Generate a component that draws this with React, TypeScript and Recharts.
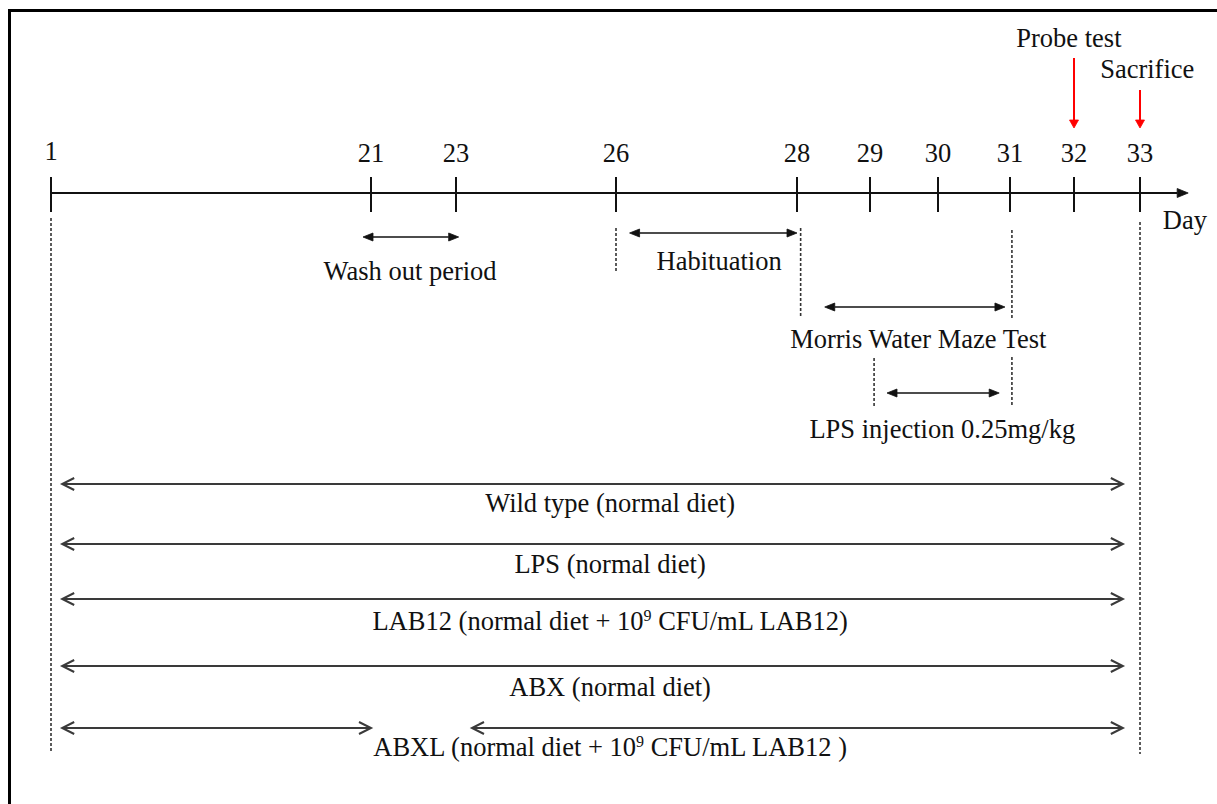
import { ComposedChart, ReferenceLine, Scatter, XAxis, YAxis } from "recharts";

// days printed above the timeline
const DAYS = [1, 21, 23, 26, 28, 29, 30, 31, 32, 33];
// where each printed day sits along the drawn axis (the schematic is not to scale)
const DAY_TRACK = [0, 320, 405, 565, 746, 819, 887, 959, 1023, 1089];

// experiment phases, in (fractional) days as drawn
const PHASE_NAMES = [
  "Wash out period",
  "Habituation",
  "Morris Water Maze Test",
  "LPS injection 0.25mg/kg",
];
const PHASE_START = [20.5, 26.15, 28.38, 29.25];
const PHASE_END = [23.05, 28.0, 30.93, 30.85];

// treatment groups ("^" marks a superscript digit)
const GROUP_NAMES = [
  "Wild type (normal diet)",
  "LPS (normal diet)",
  "LAB12 (normal diet + 10^9 CFU/mL LAB12)",
  "ABX (normal diet)",
  "ABXL (normal diet + 10^9 CFU/mL LAB12 )",
];
const GROUP_START = 1.7;
const GROUP_END = 32.74;
// ABXL is paused between these days
const ABXL_PAUSE = [21.0, 23.3];

const EVENT_NAMES = ["Probe test", "Sacrifice"];
const EVENT_DAYS = [32, 33];

// ---- layout (vertical rows are page rows, the schematic has no y quantity)
const W = 1217;
const H = 804;
const FONT = 26.5;
const SERIF = '"Liberation Serif", "Times New Roman", serif';
const INK = "#111";
const AXIS_Y = 193;
const AXIS_END_DAY = 33.73;
const TICK_TOP = 177;
const TICK_BOTTOM = 212;
const DAY_LABEL_Y = 162;
const PHASE_ROWS = [237, 233, 307, 393];
const PHASE_LABEL_ROWS = [280, 270, 348, 438];
const PHASE_LABEL_DAYS = [21.92, 27.14, 29.71, 30.06];
const GROUP_ROWS = [484, 544, 599, 666, 728];
const GROUP_LABEL_ROWS = [512, 573, 630, 696, 756];
const GROUP_LABEL_DAY = 25.89;
const EVENT_TOP = [58, 90];
const EVENT_BOTTOM = 128;
const EVENT_LABEL_ROWS = [47, 78];
const EVENT_LABEL_DAYS = [31.92, 33.11];
const GUIDES = [
  { day: 1, y1: 218, y2: 753 },
  { day: 33, y1: 222, y2: 754 },
  { day: 26, y1: 228, y2: 273 },
  { day: 28.05, y1: 228, y2: 318 },
  { day: 31.03, y1: 230, y2: 320 },
  { day: 31.03, y1: 357, y2: 405 },
  { day: 29.06, y1: 358, y2: 407 },
];

// piecewise position of a day on the drawn axis
function track(day: number) {
  let i = 0;
  while (i < DAYS.length - 2 && day > DAYS[i + 1]) i++;
  const t = (day - DAYS[i]) / (DAYS[i + 1] - DAYS[i]);
  return DAY_TRACK[i] + t * (DAY_TRACK[i + 1] - DAY_TRACK[i]);
}

function head(ax: number, ay: number, bx: number, by: number, len: number, half: number) {
  const L = Math.hypot(bx - ax, by - ay) || 1;
  const ux = (bx - ax) / L;
  const uy = (by - ay) / L;
  const baseX = bx - ux * len;
  const baseY = by - uy * len;
  return {
    base: [baseX, baseY],
    pts: [
      [baseX - uy * half, baseY + ux * half],
      [bx, by],
      [baseX + uy * half, baseY - ux * half],
    ],
  };
}

type ArrowOpts = { color: string; width: number; len: number; half: number; open: boolean; both: boolean };

const arrowShape = (o: ArrowOpts) => (p: any) => {
  const { x1, y1, x2, y2 } = p;
  const end = head(x1, y1, x2, y2, o.len, o.half);
  const start = head(x2, y2, x1, y1, o.len, o.half);
  const from = o.both && !o.open ? start.base : [x1, y1];
  const to = o.open ? [x2, y2] : end.base;
  const poly = (pts: number[][]) => pts.map((q) => q.join(",")).join(" ");
  return (
    <g>
      <line x1={from[0]} y1={from[1]} x2={to[0]} y2={to[1]} stroke={o.color} strokeWidth={o.width} />
      {[end, ...(o.both ? [start] : [])].map((h, i) =>
        o.open ? (
          <polyline key={i} points={poly(h.pts)} fill="none" stroke={o.color} strokeWidth={o.width} />
        ) : (
          <polygon key={i} points={poly(h.pts)} fill={o.color} stroke={o.color} strokeWidth={0.8} />
        )
      )}
    </g>
  );
};

const phaseArrow = arrowShape({ color: INK, width: 1.6, len: 10, half: 4, open: false, both: true });
const groupArrow = arrowShape({ color: "#3a3a3a", width: 2, len: 12, half: 6, open: true, both: true });
const axisArrow = arrowShape({ color: INK, width: 2, len: 11, half: 4.5, open: false, both: false });
const eventArrow = arrowShape({ color: "#ff0000", width: 2, len: 8, half: 4.5, open: false, both: false });

const renderLabel = (p: any) => {
  const { cx, cy, payload } = p;
  const parts = String(payload.text).split("^");
  return (
    <text x={cx} y={cy} textAnchor="middle" fontSize={FONT} fontFamily={SERIF} fill={INK}>
      {parts[0]}
      {parts.slice(1).map((s, i) => (
        <tspan key={i}>
          <tspan dy={-9} fontSize={16}>
            {s[0]}
          </tspan>
          <tspan dy={9}>{s.slice(1)}</tspan>
        </tspan>
      ))}
    </text>
  );
};

const labels = [
  ...DAYS.map((d) => ({ x: track(d), y: d === 1 ? DAY_LABEL_Y - 2 : DAY_LABEL_Y, text: String(d) })),
  { x: track(33.68), y: 229, text: "Day" },
  ...PHASE_NAMES.map((n, i) => ({ x: track(PHASE_LABEL_DAYS[i]), y: PHASE_LABEL_ROWS[i], text: n })),
  ...GROUP_NAMES.map((n, i) => ({ x: track(GROUP_LABEL_DAY), y: GROUP_LABEL_ROWS[i], text: n })),
  ...EVENT_NAMES.map((n, i) => ({ x: track(EVENT_LABEL_DAYS[i]), y: EVENT_LABEL_ROWS[i], text: n })),
];

const seg = (xa: number, ya: number, xb: number, yb: number) => [
  { x: xa, y: ya },
  { x: xb, y: yb },
];

export default function App() {
  const groupSegments: { a: number; b: number; y: number }[] = [];
  GROUP_ROWS.forEach((y, i) => {
    if (i === GROUP_ROWS.length - 1) {
      groupSegments.push({ a: GROUP_START, b: ABXL_PAUSE[0], y });
      groupSegments.push({ a: ABXL_PAUSE[1], b: GROUP_END, y });
    } else {
      groupSegments.push({ a: GROUP_START, b: GROUP_END, y });
    }
  });

  return (
    <div
      style={{
        position: "absolute",
        left: 0,
        top: 0,
        width: W,
        height: H,
        overflow: "hidden",
        background: "#fff",
        fontFamily: SERIF,
      }}
    >
      <div
        style={{
          position: "absolute",
          left: 8,
          top: 9,
          width: W - 8,
          height: H - 9,
          boxSizing: "border-box",
          borderTop: "3px solid #000",
          borderLeft: "3px solid #000",
        }}
      />
      <ComposedChart width={W} height={H} margin={{ top: 0, right: 0, bottom: 0, left: 0 }}>
        <XAxis type="number" dataKey="x" domain={[-51, 1166]} allowDataOverflow hide />
        <YAxis type="number" dataKey="y" domain={[0, H]} allowDataOverflow reversed hide />

        {GUIDES.map((g, i) => (
          <ReferenceLine
            key={`g${i}`}
            segment={seg(track(g.day), g.y1, track(g.day), g.y2)}
            stroke="#333"
            strokeWidth={1.6}
            strokeDasharray="3 2"
          />
        ))}

        <ReferenceLine segment={seg(track(1), AXIS_Y, track(AXIS_END_DAY), AXIS_Y)} shape={axisArrow} />
        {DAYS.map((d) => (
          <ReferenceLine
            key={`t${d}`}
            segment={seg(track(d), TICK_TOP, track(d), TICK_BOTTOM)}
            stroke={INK}
            strokeWidth={2}
          />
        ))}

        {EVENT_DAYS.map((d, i) => (
          <ReferenceLine
            key={`e${d}`}
            segment={seg(track(d), EVENT_TOP[i], track(d), EVENT_BOTTOM)}
            shape={eventArrow}
          />
        ))}

        {PHASE_NAMES.map((n, i) => (
          <ReferenceLine
            key={n}
            segment={seg(track(PHASE_START[i]), PHASE_ROWS[i], track(PHASE_END[i]), PHASE_ROWS[i])}
            shape={phaseArrow}
          />
        ))}

        {groupSegments.map((s, i) => (
          <ReferenceLine key={`s${i}`} segment={seg(track(s.a), s.y, track(s.b), s.y)} shape={groupArrow} />
        ))}

        <Scatter data={labels} shape={renderLabel} isAnimationActive={false} />
      </ComposedChart>
    </div>
  );
}
